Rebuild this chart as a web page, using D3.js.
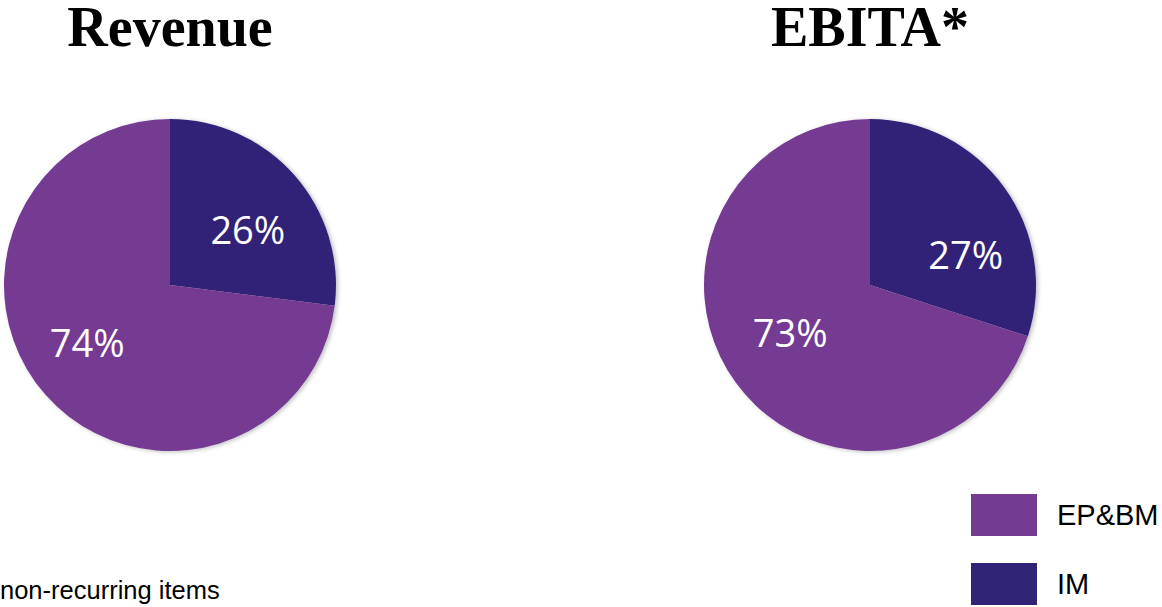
<!DOCTYPE html>
<html>
<head>
<meta charset="utf-8">
<script src="https://cdn.jsdelivr.net/npm/d3@7"></script>
<style>
  body { margin: 0; background: #fff; overflow: hidden; }
  svg { display: block; }
</style>
</head>
<body>
<div id="chart"></div>
<script>
// data
var segments = ['IM', 'EP&BM'];
var charts = ['Revenue', 'EBITA*'];
// slice sizes as drawn (%), order: IM, EP&BM
var revenueShares = [27, 73];
var ebitaShares = [30, 70];
// label texts as printed on the slices
var revenueLabels = ['26%', '74%'];
var ebitaLabels = ['27%', '73%'];
var legendItems = ['EP&BM', 'IM'];
var footnote = 'non-recurring items';

var width = 1162, height = 607,
    radius = 166,
    centers = [170, 870],
    cy = 285;

var color = d3.scaleOrdinal()
  .domain(segments)
  .range(['#302477', '#743b93']);

// label placement: angle (deg, clockwise from top) and distance, per chart
var labelPos = [
  [{a: 55, r: 95}, {a: 235, r: 101}],
  [{a: 73, r: 100}, {a: 239, r: 93}]
];

var svg = d3.select('#chart').append('svg')
  .attr('width', width)
  .attr('height', height);

var defs = svg.append('defs');
var shadow = defs.append('filter').attr('id', 'shadow')
  .attr('x', '-10%').attr('y', '-10%').attr('width', '120%').attr('height', '120%');
shadow.append('feDropShadow')
  .attr('dx', 2).attr('dy', 1).attr('stdDeviation', 2)
  .attr('flood-color', '#000').attr('flood-opacity', 0.25);

var pie = d3.pie().sort(null).value(function(d) { return d; });
var arc = d3.arc().innerRadius(0).outerRadius(radius);

var allShares = [revenueShares, ebitaShares];
var allLabels = [revenueLabels, ebitaLabels];

charts.forEach(function(title, ci) {
  var g = svg.append('g')
    .attr('transform', 'translate(' + centers[ci] + ',' + cy + ')');

  g.append('g').attr('filter', 'url(#shadow)')
    .selectAll('path')
    .data(pie(allShares[ci]))
    .enter().append('path')
      .attr('d', arc)
      .attr('fill', function(d, i) { return color(segments[i]); });

  g.selectAll('text.lbl')
    .data(allLabels[ci])
    .enter().append('text')
      .attr('class', 'lbl')
      .attr('x', function(d, i) { return labelPos[ci][i].r * Math.sin(labelPos[ci][i].a * Math.PI / 180); })
      .attr('y', function(d, i) { return -labelPos[ci][i].r * Math.cos(labelPos[ci][i].a * Math.PI / 180); })
      .attr('dy', '0.36em')
      .attr('text-anchor', 'middle')
      .style('font-family', '"Open Sans", sans-serif')
      .style('font-size', '38px')
      .style('fill', '#fff')
      .text(function(d) { return d; });

  svg.append('text')
    .attr('x', centers[ci])
    .attr('y', 46)
    .attr('text-anchor', 'middle')
    .style('font-family', '"Liberation Serif", "Times New Roman", serif')
    .style('font-weight', 'bold')
    .style('font-size', '56px')
    .style('fill', '#000')
    .text(title);
});

// legend
var legend = svg.append('g').attr('transform', 'translate(971,494)');
var item = legend.selectAll('g')
  .data(legendItems)
  .enter().append('g')
    .attr('transform', function(d, i) { return 'translate(0,' + (i * 69) + ')'; });
item.append('rect')
  .attr('width', 66)
  .attr('height', 42)
  .attr('fill', function(d) { return color(d); });
item.append('text')
  .attr('x', 86)
  .attr('y', 31)
  .style('font-family', '"Liberation Sans", Arial, sans-serif')
  .style('font-size', '29px')
  .style('fill', '#000')
  .text(function(d) { return d; });

svg.append('text')
  .attr('x', 0)
  .attr('y', 599)
  .style('font-family', '"Liberation Sans", Arial, sans-serif')
  .style('font-size', '25.5px')
  .style('fill', '#000')
  .text(footnote);
</script>
</body>
</html>
